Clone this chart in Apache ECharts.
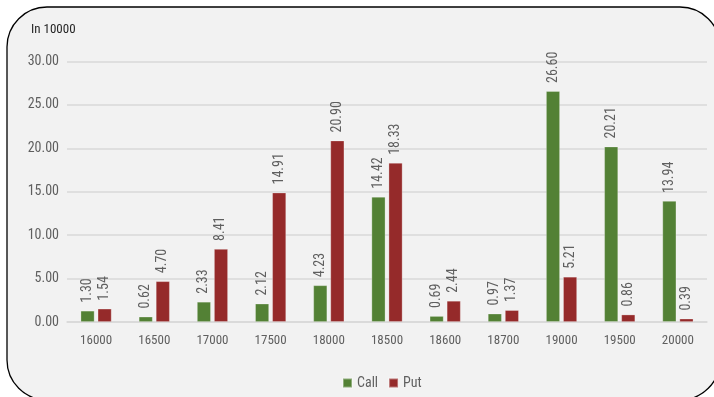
<!DOCTYPE html>
<html>
<head>
<meta charset="utf-8">
<style>
  html, body { margin: 0; padding: 0; background: #ffffff; }
  #chart { width: 714px; height: 397px; }
</style>
<script src="https://cdn.jsdelivr.net/npm/echarts@6/dist/echarts.min.js"></script>
</head>
<body>
<div id="chart"></div>
<script>
// Strike prices (categories)
const strikes = ['16000', '16500', '17000', '17500', '18000', '18500', '18600', '18700', '19000', '19500', '20000'];
// Open interest, in units of 10000
const callValues = [1.30, 0.62, 2.33, 2.12, 4.23, 14.42, 0.69, 0.97, 26.60, 20.21, 13.94];
const putValues = [1.54, 4.70, 8.41, 14.91, 20.90, 18.33, 2.44, 1.37, 5.21, 0.86, 0.39];
// Y axis range
const yMin = 0, yMax = 30, yStep = 5;

const FONT = '"Roboto Condensed", Roboto, sans-serif';
const TEXT = '#5f5f5f';

const chart = echarts.init(document.getElementById('chart'), null, { renderer: 'canvas' });

const valueLabel = {
  show: true,
  position: 'top',
  rotate: 90,
  align: 'left',
  verticalAlign: 'middle',
  distance: 8,
  color: TEXT,
  fontSize: 14,
  fontFamily: FONT,
  formatter: p => p.value.toFixed(2)
};

chart.setOption({
  animation: false,
  backgroundColor: '#ffffff',
  graphic: [{
    type: 'rect',
    z: -10,
    silent: true,
    shape: { x: 7, y: 7, width: 713, height: 393, r: 40 },
    style: { fill: '#f2f2f2', stroke: '#000000', lineWidth: 1.3 }
  }, {
    type: 'text',
    left: 31,
    top: 23,
    style: { text: 'In 10000', fill: '#262626', fontSize: 13, fontFamily: FONT }
  }],
  grid: { left: 67, right: 7, top: 61.5, bottom: 75, containLabel: false },
  legend: {
    bottom: 2,
    left: 337,
    itemWidth: 9,
    itemHeight: 9,
    itemGap: 10,
    icon: 'rect',
    textStyle: { color: TEXT, fontSize: 14, fontFamily: FONT },
    data: ['Call', 'Put']
  },
  xAxis: {
    type: 'category',
    data: strikes,
    axisLine: { lineStyle: { color: '#d9d9d9', width: 1.5 } },
    axisTick: { show: false },
    axisLabel: { color: TEXT, fontSize: 13, fontFamily: FONT, margin: 12 }
  },
  yAxis: {
    type: 'value',
    min: yMin,
    max: yMax,
    interval: yStep,
    axisLine: { show: false },
    axisTick: { show: false },
    splitLine: { lineStyle: { color: '#d9d9d9', width: 1.5 } },
    axisLabel: { color: TEXT, fontSize: 14, fontFamily: FONT, margin: 8, formatter: v => v.toFixed(2) }
  },
  series: [{
    name: 'Call',
    type: 'bar',
    data: callValues,
    barWidth: 14,
    barGap: '22%',
    itemStyle: { color: '#538135', borderColor: 'rgba(255,255,255,0.35)', borderWidth: 0.8 },
    label: valueLabel
  }, {
    name: 'Put',
    type: 'bar',
    data: putValues,
    barWidth: 14,
    barGap: '22%',
    itemStyle: { color: '#952a2a', borderColor: 'rgba(255,255,255,0.35)', borderWidth: 0.8 },
    label: valueLabel
  }]
});
</script>
</body>
</html>
